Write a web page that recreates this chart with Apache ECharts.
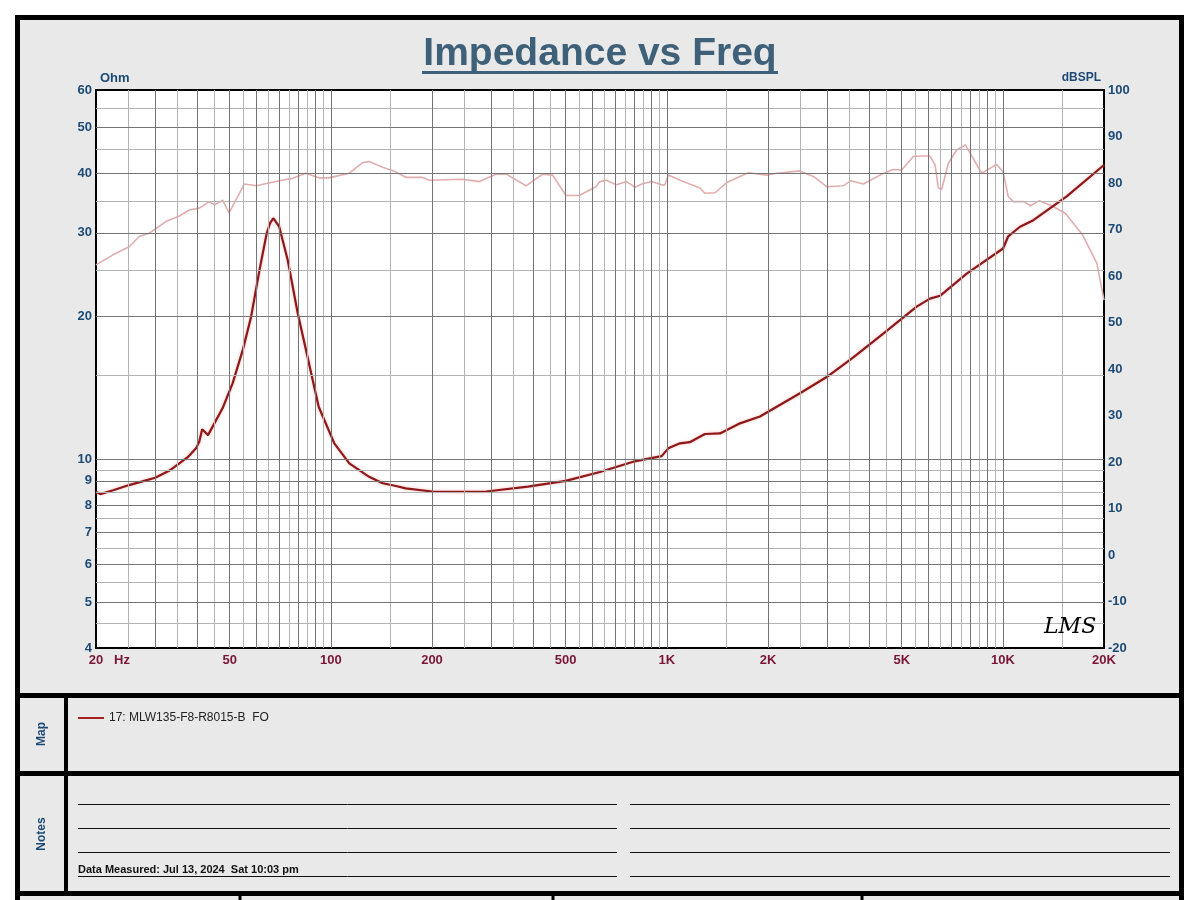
<!DOCTYPE html>
<html>
<head>
<meta charset="utf-8">
<title>Impedance vs Freq</title>
<script src="https://cdn.jsdelivr.net/npm/echarts@6.0.0/dist/echarts.min.js"></script>
<style>
    html, body { margin: 0; padding: 0; background: #fff; }
    #chart { width: 1200px; height: 900px; }
</style>
</head>
<body>
<div id="chart"></div>
<script>
// impedance curve, Ohm (left log axis)
var impFreq = [20, 20.6, 22.5, 25.1, 27.5, 30, 33, 35.4, 37.5, 39.7,
    40.6, 41.4, 43.1, 47.6, 51, 54.7, 57.9, 61.3, 64.4, 66,
    67.4, 70.2, 74.4, 79.7, 84.3, 92, 102.4, 113.5, 130, 142.6,
    156.3, 167, 200, 250, 290, 386, 500, 632, 794, 965,
    1010, 1094, 1170, 1298, 1439, 1651, 1893, 2124, 2490, 2990,
    3589, 4406, 5541, 6070, 6502, 7805, 10014, 10375, 11247, 12325,
    15490, 20000];
var impOhm = [8.54, 8.44, 8.6, 8.82, 8.98, 9.14, 9.45, 9.8, 10.1, 10.54,
    10.9, 11.56, 11.24, 12.8, 14.45, 17.0, 19.96, 25.0, 29.9, 31.5,
    32.2, 30.9, 26.3, 20.3, 17.0, 12.9, 10.8, 9.8, 9.18, 8.9,
    8.78, 8.68, 8.55, 8.53, 8.55, 8.75, 9.0, 9.4, 9.88, 10.15,
    10.54, 10.8, 10.86, 11.3, 11.33, 11.9, 12.3, 12.9, 13.77, 14.9,
    16.4, 18.4, 20.97, 21.8, 22.1, 24.6, 27.8, 29.5, 30.9, 31.9,
    35.8, 41.7];

// SPL curve, dBSPL (right axis)
var splFreq = [20, 22.4, 25.1, 26.9, 28.8, 32.3, 35.4, 37.9, 40.6, 43.5,
    45.1, 47.6, 49.8, 55.3, 60, 70.2, 76.9, 84.3, 92.4, 98.6,
    113.5, 124.4, 130, 142.6, 156, 167.6, 187.8, 196.5, 246.8, 276.6,
    310, 333, 381, 427, 457, 501, 549, 615, 632, 660,
    709, 759, 803, 850, 900, 965, 987, 1010, 1119, 1255,
    1298, 1392, 1507, 1748, 1983, 2124, 2490, 2729, 2990, 3350,
    3530, 3843, 4308, 4710, 5000, 5415, 5690, 6070, 6284, 6429,
    6574, 6880, 7285, 7732, 8651, 9588, 10014, 10375, 10750, 11540,
    12100, 12840, 13960, 15340, 17280, 19050, 20000];
var splDb = [62.4, 64.5, 66.3, 68.5, 69.2, 71.7, 72.9, 74.2, 74.6, 76.0,
    75.3, 76.3, 73.6, 79.8, 79.4, 80.5, 81.0, 82.1, 81.1, 81.1,
    82.1, 84.4, 84.6, 83.4, 82.4, 81.2, 81.2, 80.6, 80.8, 80.3,
    81.9, 81.9, 79.4, 81.9, 81.7, 77.3, 77.3, 79.2, 80.3, 80.6,
    79.6, 80.3, 79.1, 79.9, 80.3, 79.6, 79.6, 81.7, 80.3, 78.9,
    77.8, 77.9, 80.1, 82.2, 81.7, 82.1, 82.6, 81.4, 79.2, 79.4,
    80.5, 79.8, 81.7, 82.9, 82.8, 85.7, 85.8, 85.8, 83.9, 78.9,
    78.6, 84.2, 87.1, 88.2, 82.1, 84.0, 82.4, 77.1, 76.0, 76.0,
    75.1, 76.2, 75.1, 73.5, 68.8, 62.7, 54.8];

// tick labels
var freqLabels = [20, 50, 100, 200, 500, 1000, 2000, 5000, 10000, 20000];
var ohmLabels = [4, 5, 6, 7, 8, 9, 10, 20, 30, 40, 50, 60];

// grid lines (darker at whole steps, lighter at half steps)
var gridMajorX = [30, 40, 50, 60, 70, 80, 90, 100, 200, 300, 400, 500, 600, 700, 800, 900,
    1000, 2000, 3000, 4000, 5000, 6000, 7000, 8000, 9000, 10000];
var gridMinorX = [25, 35, 45, 55, 65, 75, 85, 95, 150, 250, 350, 450, 550, 650, 750, 850, 950,
    1500, 2500, 3500, 4500, 5500, 6500, 7500, 8500, 9500, 15000];
var gridMajorY = [5, 6, 7, 8, 9, 10, 20, 30, 40, 50];
var gridMinorY = [4.5, 5.5, 6.5, 7.5, 8.5, 9.5, 15, 25, 35, 45, 55];

var seriesName = "17: MLW135-F8-R8015-B  FO";

var FONT = '"Liberation Sans", Arial, sans-serif';
var BLUE = "#1d4a75";

function pairs(xs, ys) {
    return xs.map(function (x, i) { return [x, ys[i]]; });
}

function fmtFreq(v) {
    return v >= 1000 ? v / 1000 + "K" : String(v);
}

function gridLines(key, values, color) {
    return {
        type: "line",
        data: [],
        silent: true,
        z: 1,
        markLine: {
            silent: true,
            symbol: ["none", "none"],
            label: { show: false },
            animation: false,
            lineStyle: { color: color, width: 1, type: "solid" },
            data: values.map(function (v) {
                var o = {};
                o[key] = v;
                return o;
            }),
        },
    };
}

function hline(x1, x2, y, w, color) {
    return { type: "line", z: 5, shape: { x1: x1, y1: y, x2: x2, y2: y }, style: { stroke: color || "#000", lineWidth: w } };
}
function vline(x, y1, y2, w) {
    return { type: "line", z: 5, shape: { x1: x, y1: y1, x2: x, y2: y2 }, style: { stroke: "#000", lineWidth: w } };
}
function label(text, x, y, font, color, align, rot) {
    return {
        type: "text", z: 6, x: x, y: y, rotation: rot || 0,
        style: { text: text, font: font, fill: color, textAlign: align || "left", textVerticalAlign: "middle" },
    };
}

var myChart = echarts.init(document.getElementById("chart"));

var graphics = [
    // panel
    { type: "rect", z: -10, shape: { x: 17.5, y: 17.5, width: 1164, height: 960 }, style: { fill: "#e9e9e9", stroke: "#000", lineWidth: 5 } },
    label("Impedance vs Freq", 600, 54, "bold 39px " + FONT, "#3e6079", "center"),
    hline(422, 778, 72.5, 3, "#3e6079"),
    label("Ohm", 100, 78, "bold 13px " + FONT, BLUE),
    label("dBSPL", 1101, 78, "bold 12px " + FONT, BLUE, "right"),
    label("Hz", 114, 660, "bold 13px " + FONT, "#7b1538"),
    label("LMS", 1044, 627, "italic 22px 'DejaVu Serif', serif", "#000"),
    // map / notes boxes
    hline(17, 1183, 695.5, 5),
    hline(17, 1183, 773.5, 5),
    hline(17, 1183, 893.5, 5),
    vline(66, 695, 893, 4),
    vline(240, 893, 900, 3),
    vline(553, 893, 900, 3),
    vline(862, 893, 900, 3),
    label("Map", 42, 734, "bold 12px " + FONT, BLUE, "center", Math.PI / 2),
    label("Notes", 42, 834, "bold 12px " + FONT, BLUE, "center", Math.PI / 2),
    hline(78, 617, 804.5, 1, "#111"),
    hline(78, 617, 828.5, 1, "#111"),
    hline(78, 617, 852.5, 1, "#111"),
    hline(78, 617, 876.5, 1, "#111"),
    hline(630, 1170, 804.5, 1, "#111"),
    hline(630, 1170, 828.5, 1, "#111"),
    hline(630, 1170, 852.5, 1, "#111"),
    hline(630, 1170, 876.5, 1, "#111"),
    label("Data Measured: Jul 13, 2024  Sat 10:03 pm", 78, 870, "bold 11px " + FONT, "#111"),
];

var option = {
    animation: false,
    graphic: graphics,
    grid: {
        show: true,
        left: 96,
        right: 96,
        top: 90,
        bottom: 252,
        backgroundColor: "#ffffff",
        borderColor: "#000",
        borderWidth: 2,
        outerBoundsMode: "none",
    },
    legend: {
        left: 73,
        top: 707,
        icon: "rect",
        itemWidth: 26,
        itemHeight: 2,
        itemGap: 10,
        textStyle: { color: "#222", fontSize: 12, fontFamily: FONT },
        data: [seriesName],
    },
    xAxis: {
        type: "log",
        logBase: 10,
        min: 20,
        max: 20000,
        axisLine: { show: false },
        axisTick: { show: false },
        splitLine: { show: false },
        axisLabel: {
            customValues: freqLabels,
            formatter: fmtFreq,
            color: "#7b1538",
            fontWeight: "bold",
            fontSize: 13,
            fontFamily: FONT,
            margin: 6,
            showMinLabel: true,
            showMaxLabel: true,
            hideOverlap: false,
        },
    },
    yAxis: [
        {
            type: "log",
            logBase: 10,
            min: 4,
            max: 60,
            position: "left",
            axisLine: { show: false },
            axisTick: { show: false },
            splitLine: { show: false },
            axisLabel: {
                customValues: ohmLabels,
                color: BLUE,
                fontWeight: "bold",
                fontSize: 13,
                fontFamily: FONT,
                margin: 4,
                showMinLabel: true,
                showMaxLabel: true,
            },
        },
        {
            type: "value",
            min: -20,
            max: 100,
            interval: 10,
            position: "right",
            axisLine: { show: false },
            axisTick: { show: false },
            splitLine: { show: false },
            axisLabel: {
                color: BLUE,
                fontWeight: "bold",
                fontSize: 13,
                fontFamily: FONT,
                margin: 4,
            },
        },
    ],
    series: [
        gridLines("xAxis", gridMinorX, "#b4b4b4"),
        gridLines("yAxis", gridMinorY, "#b4b4b4"),
        gridLines("xAxis", gridMajorX, "#747474"),
        gridLines("yAxis", gridMajorY, "#747474"),
        {
            name: "SPL",
            type: "line",
            yAxisIndex: 1,
            z: 3,
            showSymbol: false,
            symbol: "none",
            lineStyle: { color: "#e2adad", width: 1.6 },
            itemStyle: { color: "#e2adad" },
            data: pairs(splFreq, splDb),
        },
        {
            name: seriesName,
            type: "line",
            yAxisIndex: 0,
            z: 4,
            showSymbol: false,
            symbol: "none",
            lineStyle: { color: "#8e1818", width: 2.2, shadowColor: "rgba(255,130,130,0.55)", shadowBlur: 3 },
            itemStyle: { color: "#a81f1f" },
            data: pairs(impFreq, impOhm),
        },
    ],
};

myChart.setOption(option);
window.addEventListener("resize", function () {
    myChart.resize();
});
</script>
</body>
</html>
